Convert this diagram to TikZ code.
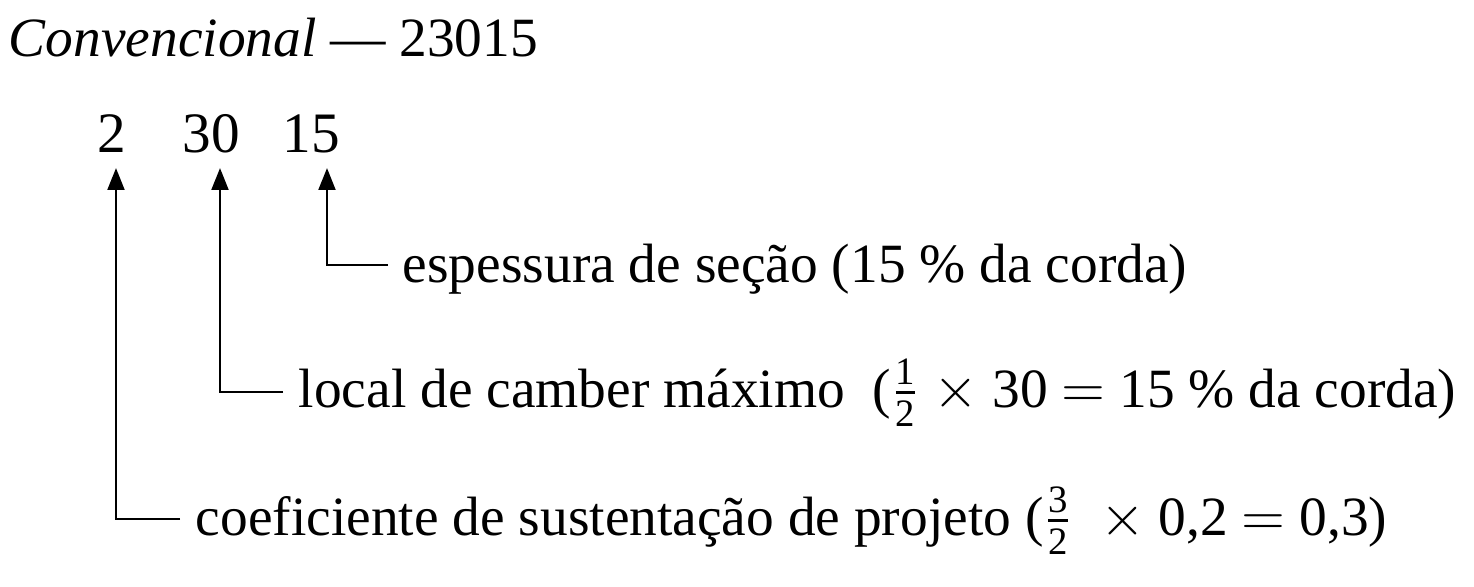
\documentclass[tikz,border=0pt]{standalone}
\usepackage{fontspec}
\setmainfont{Liberation Serif}
\usepackage{amsmath}
\usepackage{tikz}
\usetikzlibrary{positioning, arrows.meta}
\tikzstyle{digito} = [
anchor=base west,
inner sep=0pt,
font=\fontsize{14.3}{17}\selectfont
]
\tikzstyle{texto} = [
anchor=base west,
inner sep=0pt
]
\tikzstyle{seta}=[-{Triangle[length=5.5pt,width=4.2pt]},line width=0.65pt]

\begin{document}
\begin{tikzpicture}[x=0.25pt,y=-0.25pt,font=\fontsize{13.85}{17}\selectfont]
        \useasboundingbox (0,0) rectangle (1474,587);
        
        \node (titulo) [texto] at (8,57) {\textit{Convencional} --- 23015};
        
        \node (d1) [digito] at (97,153) {2};
        
        \node (d2) [digito] at (182,153) {30};
        
        \node (d3) [digito] at (282,153) {15};
        
        \coordinate (p1) at (116,168);
        \coordinate (p2) at (220,168);
        \coordinate (p3) at (327,168);
        
        \node (espessura) [texto] at (402,282)
        {espessura de seção (15 \% da corda)};
        
        \node (camber) [texto] at (298,407)
        {local de camber máximo~ ($\frac{\text{1}}{\text{2}}$ $\times$ 30 $=$ 15 \% da corda)};
        
        \node (coef) [texto] at (195,535)
        {coeficiente de sustentação de projeto ($\frac{\text{3}}{\text{2}}$~ $\times$ 0,2 $=$ 0,3)};
        
        \draw [seta] ([xshift=-3.5pt,yshift=4.2pt]espessura.base west) -| (p3);
        
        \draw [seta] ([xshift=-3.7pt,yshift=3.8pt]camber.base west) -| (p2);
        
        \draw [seta] ([xshift=-3.7pt,yshift=4pt]coef.base west) -| (p1);
        
\end{tikzpicture}
\end{document}
